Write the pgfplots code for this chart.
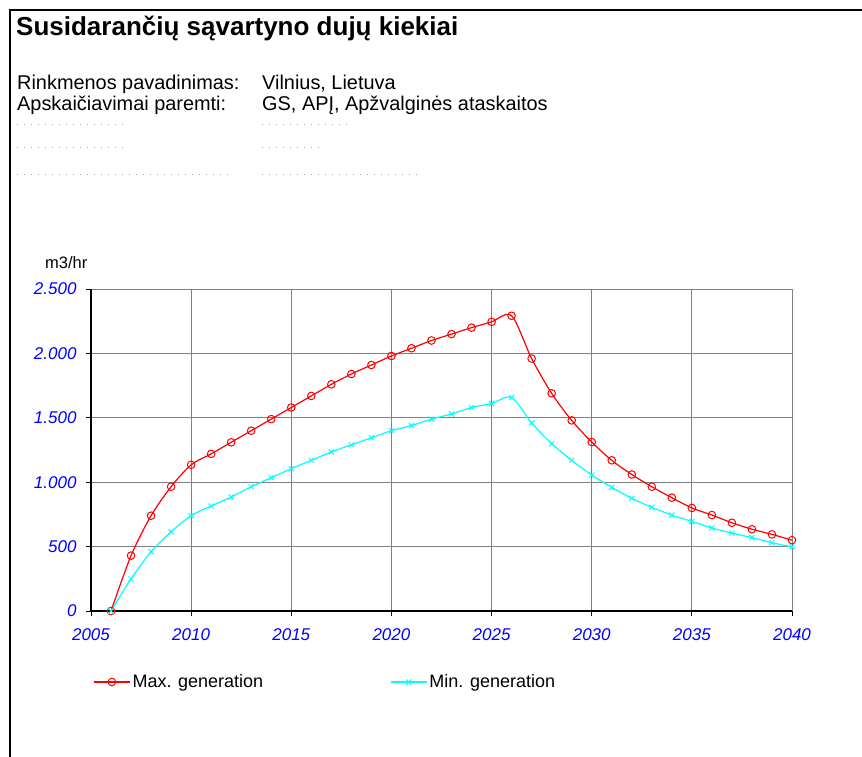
\documentclass[border=0pt]{standalone}
\usepackage{fontspec}
\setmainfont{Liberation Sans}
\usepackage{pgfplots}
\pgfplotsset{compat=1.18}
\usepackage{pgfplotstable}
\definecolor{maxred}{RGB}{255,0,0}
\definecolor{mincyan}{RGB}{0,255,255}
\definecolor{tickblue}{RGB}{0,0,255}
\pgfplotstableread{
year maxg ming
2006 0 0
2007 430 250
2008 740 460
2009 965 615
2010 1135 740
2011 1220 815
2012 1310 885
2013 1400 965
2014 1490 1035
2015 1580 1105
2016 1670 1170
2017 1760 1235
2018 1840 1290
2019 1910 1345
2020 1980 1400
2021 2040 1440
2022 2100 1490
2023 2150 1530
2024 2200 1580
2025 2245 1612
2026 2292 1657
2027 1960 1460
2028 1690 1300
2029 1480 1170
2030 1312 1056
2031 1170 960
2032 1060 875
2033 965 805
2034 880 745
2035 800 695
2036 745 645
2037 685 605
2038 635 570
2039 595 530
2040 550 498
}\gasdata
\begin{document}
\begin{tikzpicture}[x=1pt,y=1pt]
\path[use as bounding box] (0,0) rectangle (862,-756);
\draw[line width=2.8pt] (10,-760) -- (10,-10) -- (866,-10);
\node[anchor=base west, inner sep=0pt, font=\bfseries\fontsize{26}{26}\selectfont] at (16,-35.5) {Susidarančių sąvartyno dujų kiekiai};
\node[anchor=base west, inner sep=0pt, font=\fontsize{19.9}{19.9}\selectfont] at (17,-89.3) {Rinkmenos pavadinimas:};
\node[anchor=base west, inner sep=0pt, font=\fontsize{19.9}{19.9}\selectfont] at (262,-89.3) {Vilnius, Lietuva};
\node[anchor=base west, inner sep=0pt, font=\fontsize{19.9}{19.9}\selectfont] at (17,-110) {Apskaičiavimai paremti:};
\node[anchor=base west, inner sep=0pt, font=\fontsize{19.9}{19.9}\selectfont] at (262,-110) {GS, APĮ, Apžvalginės ataskaitos};
\begin{scope}[gray!70, line width=0.9pt, dash pattern=on 1pt off 6pt]
\draw (17,-124) -- (125,-124);
\draw (262,-124) -- (350,-124);
\draw (17,-147) -- (127,-147);
\draw (262,-147) -- (323,-147);
\draw (17,-174) -- (230,-174);
\draw (262,-174) -- (417,-174);
\end{scope}
\node[anchor=base west, inner sep=0pt, font=\fontsize{16.5}{16.5}\selectfont] at (45,-268) {m3/hr};
\begin{axis}[
  at={(91pt,-611pt)}, anchor=south west,
  scale only axis, width=701pt, height=322pt,
  xmin=2005, xmax=2040, ymin=0, ymax=2500,
  xtick={2005,2010,...,2040}, ytick={0,500,...,2500},
  grid=major, major grid style={color=black!50, line width=0.8pt},
  axis lines*=left, axis line style={black, line width=1.4pt},
  tick align=outside, major tick length=5pt,
  tick style={black, line width=1pt},
  /pgf/number format/assume math mode=true,
  ticklabel style={font=\fontsize{17}{17}\selectfont\itshape, color=tickblue},
  x tick label style={/pgf/number format/1000 sep={}, yshift=-9pt},
  y tick label style={/pgf/number format/1000 sep={.}, xshift=-6pt},
  clip=false,
  legend columns=2,
  legend style={at={(axis description cs:0.003,-0.2205)}, anchor=west, draw=none, fill=none,
    inner sep=0pt, font=\fontsize{18}{18}\selectfont,
    /tikz/every even column/.append style={column sep=125pt}},
  legend cell align=left,
  legend image code/.code={\draw[mark repeat=2,mark phase=2,#1] plot coordinates {(0pt,0pt) (18pt,0pt) (36pt,0pt)};},
]
\addplot[color=maxred, line width=1.2pt, smooth, tension=0.5, mark=o, mark size=3.8pt, mark options={line width=1pt, solid}] table[x=year, y=maxg] {\gasdata};
\addlegendentry{Max. generation}
\addplot[color=mincyan, line width=1.2pt, smooth, tension=0.5, mark=x, mark size=3.6pt, mark options={line width=1pt, solid}] table[x=year, y=ming] {\gasdata};
\addlegendentry{Min. generation}
\end{axis}
\end{tikzpicture}
\end{document}
